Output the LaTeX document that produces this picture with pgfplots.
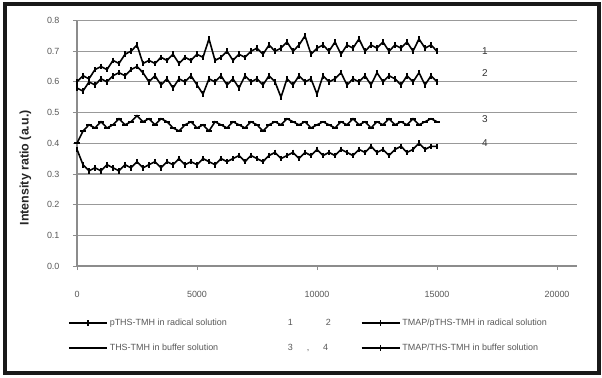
\documentclass[border=0pt]{standalone}
\usepackage{pgfplots}
\pgfplotsset{compat=1.18}
\usepackage{fontspec}
\setmainfont{Liberation Sans}
\begin{document}
\begin{tikzpicture}
\useasboundingbox (-77bp,-112bp) rectangle (525bp,266bp);
\fill[white] (-77bp,-112bp) rectangle (525bp,266bp);
\begin{axis}[
  at={(0,0)}, anchor=south west,
  scale only axis, width=500bp, height=245.5bp,
  xmin=0, xmax=20833, ymin=0, ymax=0.8,
  xtick={0,5000,10000,15000,20000},
  ytick={0,0.1,...,0.81},
  scaled x ticks=false,
  xticklabel style={/pgf/number format/1000 sep={}, yshift=-18bp, font=\fontsize{9}{10}\selectfont, text=black!65},
  yticklabel style={/pgf/number format/fixed, /pgf/number format/fixed zerofill, /pgf/number format/precision=1, xshift=-10bp, font=\fontsize{9}{10}\selectfont, text=black!65},
  /pgf/number format/assume math mode=true,
  axis x line*=bottom, axis y line*=left,
  axis line style={black!45, line width=1.2pt, -},
  tick style={black!45, line width=0.8pt},
  tick align=outside, major tick length=4bp,
  ymajorgrids, grid style={black!40, line width=1.2pt},
  ylabel={Intensity ratio (a.u.)},
  ylabel shift=9bp,
  ylabel style={at={(ticklabel cs:0.4)}, font=\fontsize{12.5}{14}\selectfont\bfseries, text=black!85},
  legend columns=2,
  legend cell align=left,
  legend style={at={(-0.024,-0.20)}, anchor=north west, draw=none, fill=none,
    font=\fontsize{9}{10}\selectfont, text=black!65,
    /tikz/every even column/.append style={column sep=28bp},
    row sep=13bp},
  legend image code/.code={\draw[#1,mark repeat=2,mark phase=2] plot coordinates {(0bp,0bp) (19bp,0bp) (38bp,0bp)};},
]
\addplot[black, line width=1.6pt, mark=|, mark size=2.8pt] coordinates {
(0,0.60)(250,0.62)(500,0.61)(750,0.64)(1000,0.65)(1250,0.64)(1500,0.67)(1750,0.66)(2000,0.69)(2250,0.70)(2500,0.72)(2750,0.66)(3000,0.67)(3250,0.66)(3500,0.68)(3750,0.67)(4000,0.69)(4250,0.66)(4500,0.68)(4750,0.67)(5000,0.69)(5250,0.68)(5500,0.74)(5750,0.67)(6000,0.68)(6250,0.70)(6500,0.67)(6750,0.69)(7000,0.68)(7250,0.70)(7500,0.71)(7750,0.69)(8000,0.72)(8250,0.70)(8500,0.71)(8750,0.73)(9000,0.70)(9250,0.72)(9500,0.75)(9750,0.69)(10000,0.71)(10250,0.72)(10500,0.70)(10750,0.73)(11000,0.69)(11250,0.72)(11500,0.71)(11750,0.74)(12000,0.70)(12250,0.72)(12500,0.71)(12750,0.73)(13000,0.70)(13250,0.72)(13500,0.71)(13750,0.73)(14000,0.70)(14250,0.74)(14500,0.71)(14750,0.72)(15000,0.70)};
\addlegendentry{\makebox[178bp][l]{pTHS-TMH in radical solution}1\hspace{33bp}2}
\addplot[black, line width=1.6pt, mark=|, mark size=2.8pt] coordinates {
(0,0.58)(250,0.57)(500,0.60)(750,0.59)(1000,0.61)(1250,0.60)(1500,0.62)(1750,0.63)(2000,0.62)(2250,0.64)(2500,0.65)(2750,0.63)(3000,0.60)(3250,0.62)(3500,0.59)(3750,0.61)(4000,0.58)(4250,0.61)(4500,0.60)(4750,0.62)(5000,0.59)(5250,0.56)(5500,0.61)(5750,0.60)(6000,0.62)(6250,0.59)(6500,0.61)(6750,0.58)(7000,0.62)(7250,0.60)(7500,0.61)(7750,0.59)(8000,0.62)(8250,0.60)(8500,0.55)(8750,0.61)(9000,0.59)(9250,0.62)(9500,0.60)(9750,0.61)(10000,0.56)(10250,0.62)(10500,0.60)(10750,0.61)(11000,0.63)(11250,0.59)(11500,0.61)(11750,0.60)(12000,0.62)(12250,0.59)(12500,0.63)(12750,0.60)(13000,0.62)(13250,0.61)(13500,0.59)(13750,0.62)(14000,0.60)(14250,0.63)(14500,0.59)(14750,0.62)(15000,0.60)};
\addlegendentry{TMAP/pTHS-TMH in radical solution}
\addplot[black, line width=1.6pt, mark=-, mark size=2.8pt] coordinates {
(0,0.40)(250,0.44)(500,0.46)(750,0.45)(1000,0.47)(1250,0.45)(1500,0.46)(1750,0.48)(2000,0.46)(2250,0.47)(2500,0.49)(2750,0.47)(3000,0.48)(3250,0.46)(3500,0.48)(3750,0.47)(4000,0.45)(4250,0.44)(4500,0.46)(4750,0.47)(5000,0.45)(5250,0.46)(5500,0.44)(5750,0.47)(6000,0.46)(6250,0.45)(6500,0.47)(6750,0.46)(7000,0.45)(7250,0.47)(7500,0.46)(7750,0.44)(8000,0.46)(8250,0.47)(8500,0.46)(8750,0.48)(9000,0.47)(9250,0.46)(9500,0.47)(9750,0.45)(10000,0.46)(10250,0.47)(10500,0.46)(10750,0.45)(11000,0.47)(11250,0.46)(11500,0.48)(11750,0.46)(12000,0.47)(12250,0.45)(12500,0.47)(12750,0.46)(13000,0.48)(13250,0.46)(13500,0.47)(13750,0.46)(14000,0.48)(14250,0.46)(14500,0.47)(14750,0.48)(15000,0.47)};
\addlegendentry{\makebox[178bp][l]{THS-TMH in buffer solution}3\hspace{14bp},\hspace{14bp}4}
\addplot[black, line width=1.6pt, mark=|, mark size=2.8pt] coordinates {
(0,0.38)(250,0.33)(500,0.31)(750,0.32)(1000,0.31)(1250,0.33)(1500,0.32)(1750,0.31)(2000,0.33)(2250,0.32)(2500,0.34)(2750,0.32)(3000,0.33)(3250,0.34)(3500,0.32)(3750,0.34)(4000,0.33)(4250,0.35)(4500,0.33)(4750,0.34)(5000,0.33)(5250,0.35)(5500,0.34)(5750,0.33)(6000,0.35)(6250,0.34)(6500,0.35)(6750,0.36)(7000,0.34)(7250,0.36)(7500,0.35)(7750,0.34)(8000,0.36)(8250,0.37)(8500,0.35)(8750,0.36)(9000,0.37)(9250,0.35)(9500,0.37)(9750,0.36)(10000,0.38)(10250,0.36)(10500,0.37)(10750,0.36)(11000,0.38)(11250,0.37)(11500,0.36)(11750,0.38)(12000,0.37)(12250,0.39)(12500,0.37)(12750,0.38)(13000,0.36)(13250,0.38)(13500,0.39)(13750,0.37)(14000,0.38)(14250,0.40)(14500,0.38)(14750,0.39)(15000,0.39)};
\addlegendentry{TMAP/THS-TMH in buffer solution}
\node[font=\fontsize{10}{11}\selectfont, text=black!80] at (axis cs:17000,0.70) {1};
\node[font=\fontsize{10}{11}\selectfont, text=black!80] at (axis cs:17000,0.63) {2};
\node[font=\fontsize{10}{11}\selectfont, text=black!80] at (axis cs:17000,0.478) {3};
\node[font=\fontsize{10}{11}\selectfont, text=black!80] at (axis cs:17000,0.40) {4};
\end{axis}
\draw[line width=3.5bp, black!90] (-72bp,-107bp) rectangle (522bp,262bp);
\end{tikzpicture}
\end{document}
